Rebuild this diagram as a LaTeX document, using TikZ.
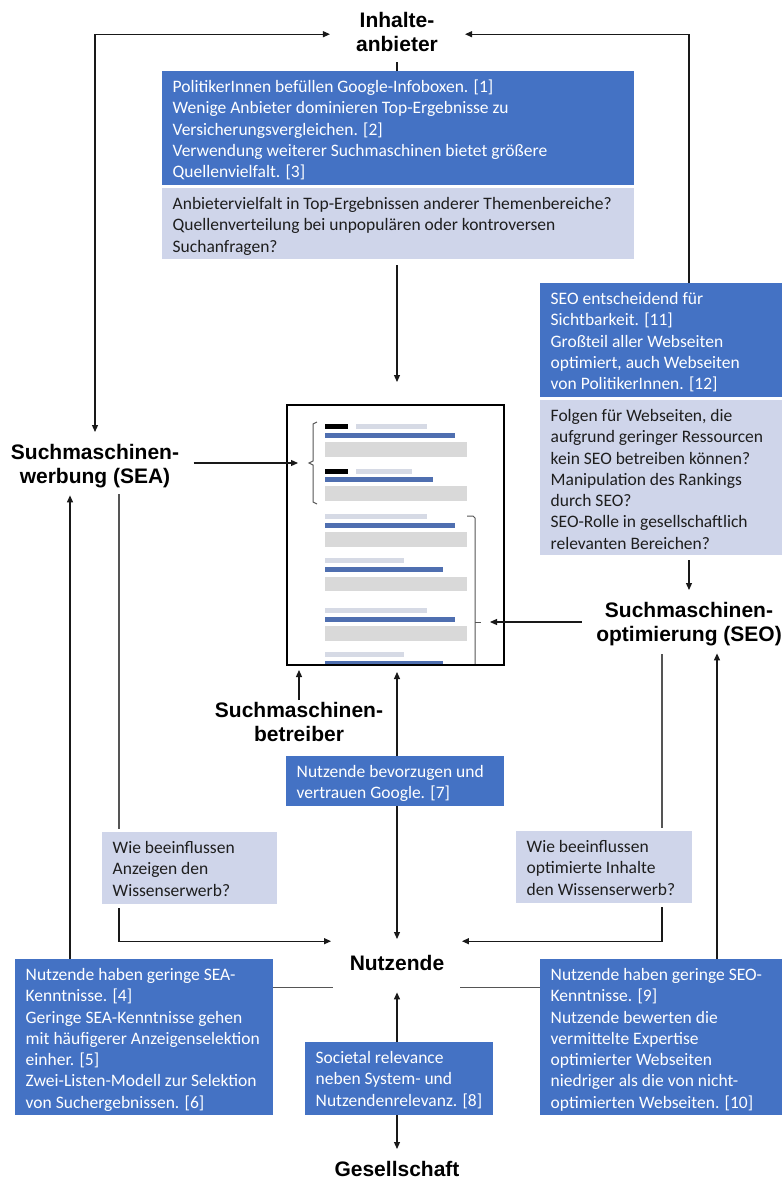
\documentclass[tikz,border=0pt]{standalone}
\usepackage{fontspec}
\setmainfont{Carlito}
\newfontfamily\lsans{Liberation Sans}
\usetikzlibrary{arrows.meta,calc}
\definecolor{dblue}{RGB}{68,114,196}
\definecolor{lblue}{RGB}{207,213,234}
\definecolor{ltext}{RGB}{30,30,30}
\definecolor{serpblue}{RGB}{79,111,176}
\definecolor{serplight}{RGB}{214,218,229}
\definecolor{serpgray}{RGB}{217,217,217}
\definecolor{lnc}{RGB}{25,25,25}
\definecolor{glc}{RGB}{85,85,85}
\newcommand{\tbox}[7]{%
  \node[#2, minimum width=#5pt, minimum height=#6pt] (#1) at (#3,#4) {};
  \node[#2txt] at ([xshift=10.5pt]#1.north west) {\rule{0pt}{21.5pt}#7};}
\tikzset{
  boxbase/.style={anchor=north west, inner sep=0pt, outer sep=0pt},
  dbox/.style={boxbase, fill=dblue},
  lbox/.style={boxbase, fill=lblue},
  txtbase/.style={anchor=north west, inner sep=0pt, align=left, font=\fontsize{17.5pt}{21.25pt}\selectfont},
  dboxtxt/.style={txtbase, text=white},
  lboxtxt/.style={txtbase, text=ltext},
  lab/.style={inner sep=0pt, align=center, font=\lsans\bfseries\fontsize{21pt}{24pt}\selectfont},
  tip/.tip={Triangle[length=7pt,width=6pt]},
  arr/.style={draw=lnc, line width=1.2pt, -tip},
  arrb/.style={draw=lnc, line width=1.2pt, tip-tip},
  ln/.style={draw=lnc, line width=1.2pt},
  gln/.style={draw=glc, line width=1.2pt},
  brk/.style={draw=glc, line width=1pt},
}
\begin{document}
\begin{tikzpicture}[x=1pt,y=-1pt]
\fill[white] (0,0) rectangle (782,1184);
\useasboundingbox (0,0) rectangle (782,1184);

% ---------- labels ----------
\node[lab] (inh)  at (397,34.2)   {\strut Inhalte-\\\strut anbieter};
\node[lab] (sea)  at (95,466.2)   {\strut Suchmaschinen-\\\strut werbung (SEA)};
\node[lab] (bet)  at (299,724.2)  {\strut Suchmaschinen-\\\strut betreiber};
\node[lab] (seo)  at (689,624.2)  {\strut Suchmaschinen-\\\strut optimierung (SEO)};
\node[lab] (nutz) at (397,965.2)  {\strut Nutzende};
\node[lab] (ges)  at (397,1171.2) {\strut Gesellschaft};

% ---------- boxes ----------
\tbox{tb1}{dbox}{162}{71}{472}{114}{PolitikerInnen befüllen Google-Infoboxen. [1]\\Wenige Anbieter dominieren Top-Ergebnisse zu\\Versicherungsvergleichen. [2]\\Verwendung weiterer Suchmaschinen bietet größere\\Quellenvielfalt. [3]}
\tbox{tb2}{lbox}{162}{188}{472}{71}{Anbietervielfalt in Top-Ergebnissen anderer Themenbereiche?\\Quellenverteilung bei unpopulären oder kontroversen\\Suchanfragen?}
\tbox{sd}{dbox}{540}{283}{242}{114}{SEO entscheidend für\\Sichtbarkeit. [11]\\Großteil aller Webseiten\\optimiert, auch Webseiten\\von PolitikerInnen. [12]}
\tbox{sl}{lbox}{540}{400}{242}{155}{Folgen für Webseiten, die\\aufgrund geringer Ressourcen\\kein SEO betreiben können?\\Manipulation des Rankings\\durch SEO?\\SEO-Rolle in gesellschaftlich\\relevanten Bereichen?}
\tbox{b7}{dbox}{286}{756}{218}{50}{Nutzende bevorzugen und\\vertrauen Google. [7]}
\tbox{lw}{lbox}{102}{832}{175}{72}{Wie beeinflussen\\Anzeigen den\\Wissenserwerb?}
\tbox{rw}{lbox}{516}{831}{176}{72}{Wie beeinflussen\\optimierte Inhalte\\den Wissenserwerb?}
\tbox{ld}{dbox}{15}{959}{258}{156}{Nutzende haben geringe SEA-\\Kenntnisse. [4]\\Geringe SEA-Kenntnisse gehen\\mit häufigerer Anzeigenselektion\\einher. [5]\\Zwei-Listen-Modell zur Selektion\\von Suchergebnissen. [6]}
\tbox{rd}{dbox}{540}{959}{242}{156}{Nutzende haben geringe SEO-\\Kenntnisse. [9]\\Nutzende bewerten die\\vermittelte Expertise\\optimierter Webseiten\\niedriger als die von nicht-\\optimierten Webseiten. [10]}
\tbox{b8}{dbox}{305}{1042}{188}{73}{Societal relevance\\neben System- und\\Nutzendenrelevanz. [8]}

% ---------- search result page ----------
\fill[black]     (325,424) rectangle (348,429);
\fill[serplight] (356,424) rectangle (427,429);
\fill[serpblue]  (325,433) rectangle (455,438);
\fill[serpgray]  (325,442) rectangle (467,457);
\fill[black]     (325,469) rectangle (348,474);
\fill[serplight] (356,469) rectangle (412,474);
\fill[serpblue]  (325,477) rectangle (433,482);
\fill[serpgray]  (325,486) rectangle (467,501);
\fill[serplight] (325,514) rectangle (427,519);
\fill[serpblue]  (325,523) rectangle (455,528);
\fill[serpgray]  (325,532) rectangle (467,547);
\fill[serplight] (325,558) rectangle (404,563);
\fill[serpblue]  (325,567) rectangle (443,572);
\fill[serpgray]  (325,577) rectangle (467,591);
\fill[serplight] (325,608) rectangle (427,613);
\fill[serpblue]  (325,617) rectangle (455,622);
\fill[serpgray]  (325,626) rectangle (467,641);
\fill[serplight] (325,652) rectangle (404,657);
\fill[serpblue]  (325,661) rectangle (443,665);
\draw[brk] (317,422) -- (313,424) -- (313,461) -- (309,463) -- (313,465) -- (313,502) -- (317,504);
\draw[brk] (467,516) -- (473,516) -- (475,518) -- (475,665);
\draw[brk] (475,622) -- (481,622);
\node[boxbase, draw=black, line width=2.4pt, minimum width=217pt, minimum height=260pt] (serp) at (287,405) {};

% ---------- helper coordinates ----------
\coordinate (brL) at (308,463);
\coordinate (brR) at (481,622);
\coordinate (seaL) at ([xshift=-25pt]sea.south);
\coordinate (seaR) at ([xshift=24pt]sea.south);
\coordinate (seoL) at ([xshift=-27pt]seo.south);
\coordinate (seoR) at ([xshift=28pt]seo.south);
\coordinate (nLu) at ([yshift=24pt]nutz.west);
\coordinate (nRu) at ([yshift=24pt]nutz.east);
\coordinate (nLd) at ([yshift=-22pt]nutz.west);
\coordinate (nRd) at ([yshift=-22pt]nutz.east);

% ---------- connectors ----------
\draw[arrb, shorten <=26pt, shorten >=10pt] (inh.west) -| (sea.north);
\draw[arr, shorten >=27pt] (seo.center |- sd.north) |- (inh.east);
\draw[ln, shorten <=4pt] (inh.south) -- (inh.south |- tb1.north);
\draw[arr, shorten <=6pt, shorten >=23pt] (inh.south |- tb2.south) -- (inh.south |- serp.north);
\draw[arr, shorten <=14.5pt, shorten >=10pt] (sea.east |- brL) -- (brL);
\draw[arr, shorten <=14.5pt, shorten >=9pt] (seo.west |- brR) -- (brR);
\draw[arr, shorten <=5pt, shorten >=10pt] (seo.north |- sl.south) -- (seo.north);
\draw[arr, shorten >=5pt] (bet.north) -- (bet.north |- serp.south);
\draw[arr, shorten >=7pt] (nutz.north |- b7.north) -- (nutz.north |- serp.south);
\draw[arr, shorten >=14pt] (nutz.north |- b7.south) -- (nutz.north);
\draw[gln, shorten <=4pt, shorten >=3pt] (seaR) -- (seaR |- lw.north);
\draw[arr, shorten <=4pt, shorten >=18.5pt] (seaR |- lw.south) |- (nLu);
\draw[gln, shorten <=6pt, shorten >=3pt] (seoL) -- (seoL |- rw.north);
\draw[arr, shorten <=4pt, shorten >=17.5pt] (seoL |- rw.south) |- (nRu);
\draw[arr, shorten >=5pt] (seoR |- rd.north) -- (seoR);
\draw[arr, shorten >=5pt] (seaL |- ld.north) -- (seaL);
\draw[gln, shorten >=16.5pt] (ld.east |- nLd) -- (nLd);
\draw[gln, shorten >=16pt] (rd.west |- nRd) -- (nRd);
\draw[arr, shorten >=15pt] (nutz.south |- b8.north) -- (nutz.south);
\draw[arr, shorten >=10pt] (ges.north |- b8.south) -- (ges.north);
\end{tikzpicture}
\end{document}
